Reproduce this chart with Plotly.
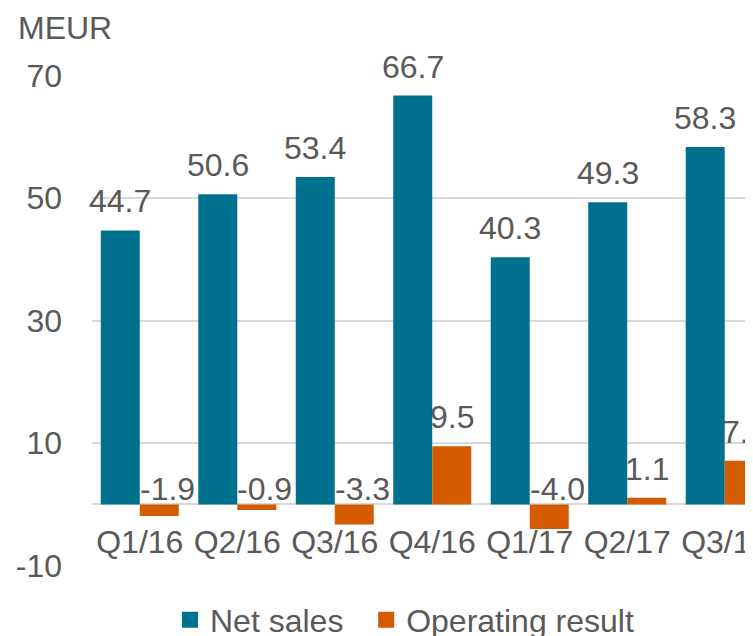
import plotly.graph_objects as go

categories = ["Q1/16", "Q2/16", "Q3/16", "Q4/16", "Q1/17", "Q2/17", "Q3/17"]
net_sales = [44.7, 50.6, 53.4, 66.7, 40.3, 49.3, 58.3]
operating_result = [-1.9, -0.9, -3.3, 9.5, -4.0, 1.1, 7.1]
y_ticks = [70, 50, 30, 10, -10]
y_tick_labels = ["70", "50", "30", "10", "-10"]

TEAL = "#00708f"
ORANGE = "#d45b00"
GREY = "#595959"
FONT = "Liberation Sans, Arial, sans-serif"
FS = 32

# the page body has an 8px default margin, so the figure is 8px smaller
W, H = 745, 628
L, R, T, B = 84, 0, 67, 70
PW, PH = W - L - R, H - T - B

fig = go.Figure()
fig.add_trace(go.Bar(x=categories, y=net_sales, name="Net sales", showlegend=False,
                     marker=dict(color=TEAL, line=dict(width=0))))
fig.add_trace(go.Bar(x=categories, y=operating_result, name="Operating result",
                     showlegend=False, marker=dict(color=ORANGE, line=dict(width=0))))
# legend entries with larger square symbols
for name, col in (("Net sales\u00a0\u00a0", TEAL), ("Operating result", ORANGE)):
    fig.add_trace(go.Scatter(x=[None], y=[None], mode="markers", name=name,
                             marker=dict(symbol="square", size=17, color=col),
                             hoverinfo="skip"))

annotations = []
for series, off in ((net_sales, -0.2), (operating_result, 0.2)):
    for i, v in enumerate(series):
        annotations.append(dict(
            x=i + off, y=max(v, 0), xref="x", yref="y",
            text=f"{v:.1f}", showarrow=False, yanchor="bottom",
            xshift=0 if v > 0 else 8,
            yshift=9 if v > 0 else -5,
            font=dict(size=FS, color=GREY, family=FONT)))
annotations.append(dict(xref="paper", yref="paper",
                        x=(8 - L) / PW, y=1 + T / PH,
                        text="MEUR", showarrow=False, xanchor="left", yanchor="top",
                        font=dict(size=FS, color=GREY, family=FONT)))

fig.update_layout(
    width=W, height=H,
    margin=dict(l=L, r=R, t=T, b=B, autoexpand=False),
    paper_bgcolor="white", plot_bgcolor="white",
    font=dict(family=FONT, size=FS, color=GREY),
    barmode="group", bargap=0.2, bargroupgap=0,
    showlegend=True,
    legend=dict(orientation="h", xref="container", yref="container",
                x=162 / W, xanchor="left", y=(H - 612) / H, yanchor="middle",
                font=dict(size=FS, color=GREY, family=FONT),
                bgcolor="rgba(0,0,0,0)", itemclick=False, itemdoubleclick=False),
    annotations=annotations,
    xaxis=dict(type="category", range=[-0.49, 6.29], showgrid=False,
               showline=False, ticks="", anchor="free", position=10 / 80,
               automargin=False,
               tickfont=dict(size=FS, color=GREY, family=FONT),
               ticklabelstandoff=15, fixedrange=True),
    yaxis=dict(range=[-10.05, 70.05], tickvals=y_ticks, ticktext=y_tick_labels,
               showgrid=True, automargin=False,
               gridcolor="#d9d9d9", gridwidth=2, zeroline=True,
               zerolinecolor="#d9d9d9", zerolinewidth=2, showline=False,
               ticks="", tickfont=dict(size=FS, color=GREY, family=FONT),
               ticklabelstandoff=29, fixedrange=True),
)

fig.write_html("out.html")
